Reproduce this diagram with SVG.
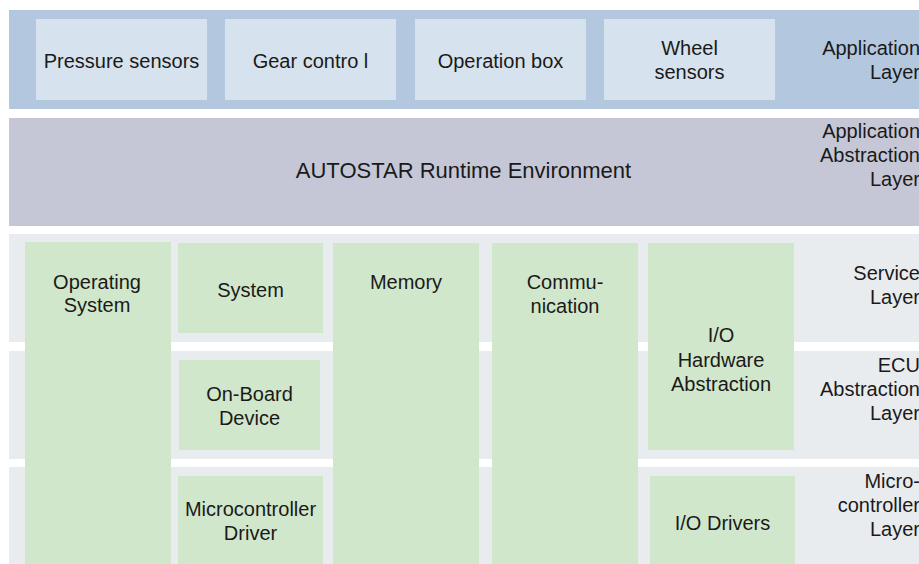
<svg xmlns="http://www.w3.org/2000/svg" width="919" height="564" viewBox="0 0 919 564">
<style>
text{font-family:"Liberation Sans",Arial,sans-serif;font-size:20px;fill:#1a1a1a}
.c{text-anchor:middle}
.r{text-anchor:end}
.app{fill:#b3c8df}
.appbox{fill:#d6e2ed}
.rte{fill:#c5c7d6}
.band{fill:#e9ecef}
.g{fill:#d1e7cb}
</style>
<rect width="919" height="564" fill="#ffffff"/>
<g id="layers">
<g id="application-layer">
<rect class="app" x="9" y="10" width="915" height="99"/>
<text class="r" x="920"><tspan x="920" y="55">Application</tspan><tspan x="920" y="79">Layer</tspan></text>
</g>
<g id="rte-layer">
<rect class="rte" x="9" y="118" width="915" height="108"/>
<text class="r" x="920"><tspan x="920" y="138">Application</tspan><tspan x="920" y="162">Abstraction</tspan><tspan x="920" y="186">Layer</tspan></text>
</g>
<g id="service-layer">
<rect class="band" x="9" y="234" width="915" height="108"/>
<text class="r" x="920"><tspan x="920" y="280">Service</tspan><tspan x="920" y="304">Layer</tspan></text>
</g>
<g id="ecu-layer">
<rect class="band" x="9" y="351" width="915" height="108"/>
<text class="r" x="920"><tspan x="920" y="372">ECU</tspan><tspan x="920" y="396">Abstraction</tspan><tspan x="920" y="420">Layer</tspan></text>
</g>
<g id="micro-layer">
<rect class="band" x="9" y="467" width="915" height="100"/>
<text class="r" x="920"><tspan x="920" y="488">Micro-</tspan><tspan x="920" y="512">controller</tspan><tspan x="920" y="536">Layer</tspan></text>
</g>
</g>
<g id="pressure-sensors">
<rect class="appbox" x="36" y="19" width="171" height="81"/>
<text class="c" x="121.5" y="68">Pressure sensors</text>
</g>
<g id="gear-control">
<rect class="appbox" x="225" y="19" width="171" height="81"/>
<text class="c" x="310.5" y="68">Gear contro l</text>
</g>
<g id="operation-box">
<rect class="appbox" x="415" y="19" width="171" height="81"/>
<text class="c" x="500.5" y="68">Operation box</text>
</g>
<g id="wheel-sensors">
<rect class="appbox" x="604" y="19" width="171" height="81"/>
<text class="c"><tspan x="689.5" y="55">Wheel</tspan><tspan x="689.5" y="79">sensors</tspan></text>
</g>
<g id="rte">
<text class="c" x="463.5" y="178" style="font-size:22px">AUTOSTAR Runtime Environment</text>
</g>
<g id="operating-system">
<rect class="g" x="25" y="242" width="146" height="325"/>
<text class="c"><tspan x="97" y="289">Operating</tspan><tspan x="97" y="312">System</tspan></text>
</g>
<g id="system">
<rect class="g" x="178" y="243" width="145" height="90"/>
<text class="c" x="250.5" y="297">System</text>
</g>
<g id="on-board-device">
<rect class="g" x="179" y="360" width="141" height="90"/>
<text class="c"><tspan x="249.5" y="401">On-Board</tspan><tspan x="249.5" y="424.5">Device</tspan></text>
</g>
<g id="microcontroller-driver">
<rect class="g" x="178" y="476" width="145" height="91"/>
<text class="c"><tspan x="250.5" y="516">Microcontroller</tspan><tspan x="250.5" y="540">Driver</tspan></text>
</g>
<g id="memory">
<rect class="g" x="333" y="243" width="146" height="324"/>
<text class="c" x="406" y="288.5">Memory</text>
</g>
<g id="communication">
<rect class="g" x="492" y="243" width="146" height="324"/>
<text class="c"><tspan x="565" y="288.5">Commu-</tspan><tspan x="565" y="312.5">nication</tspan></text>
</g>
<g id="io-hardware-abstraction">
<rect class="g" x="648" y="243" width="146" height="207"/>
<text class="c"><tspan x="721" y="342">I/O</tspan><tspan x="721" y="366.5">Hardware</tspan><tspan x="721" y="390.5">Abstraction</tspan></text>
</g>
<g id="io-drivers">
<rect class="g" x="650" y="476" width="145" height="91"/>
<text class="c" x="722.5" y="530">I/O Drivers</text>
</g>
<g id="connectors"></g>
</svg>
